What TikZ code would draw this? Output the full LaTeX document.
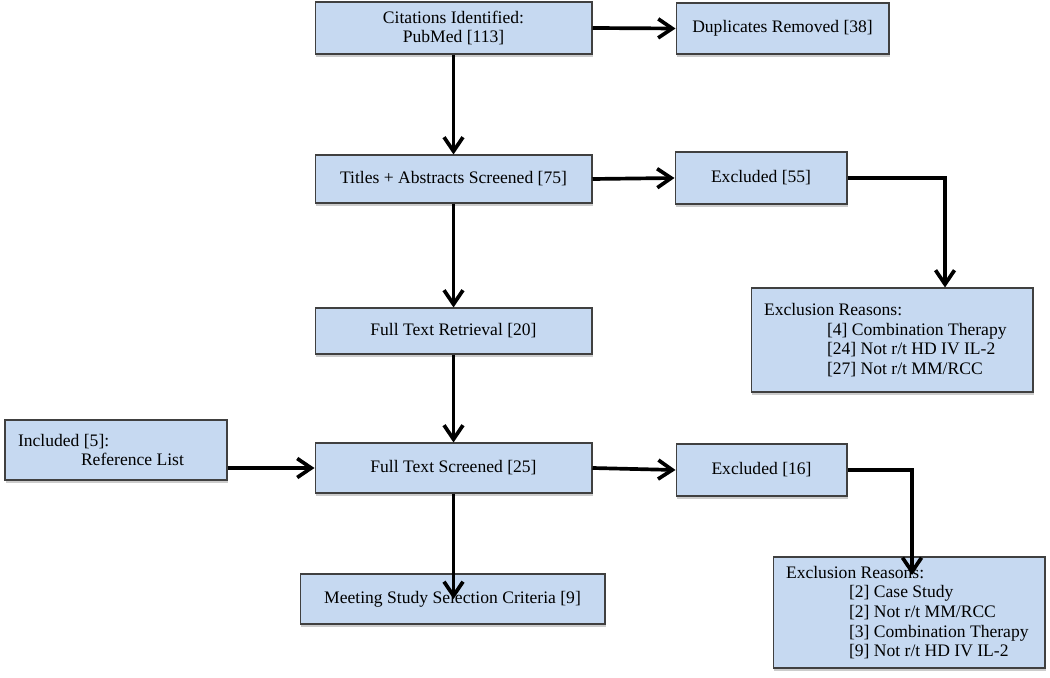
\documentclass[tikz,border=0pt]{standalone}
\usepackage{fontspec}
\setmainfont{Liberation Serif}
\usepackage{tikz}
\usetikzlibrary{arrows.meta}
\usetikzlibrary{shadows}
\definecolor{boxblue}{RGB}{198,217,241}

\begin{document}
\begin{tikzpicture}[x=0.02cm,y=-0.02cm,
  box/.style={draw=black!75,line width=0.6pt,fill=boxblue,drop shadow={shadow xshift=0.8pt,shadow yshift=-1.6pt,opacity=0.4},inner sep=0pt,align=center,font=\fontsize{10}{11.2}\selectfont},
  reasons/.style={box,align=flush left,inner xsep=0.26cm},
  link/.style={line width=2.1pt,-{Straight Barb[length=2.8mm,width=3.8mm]}}]

\useasboundingbox (0,0) rectangle (1050,678);

\node[box,minimum width=5.54cm,minimum height=1.04cm] (cite) at (453.5,28) {Citations Identified:\\ PubMed [113]};
\node[box,minimum width=4.26cm,minimum height=1.02cm] (dup) at (782.5,28.5) {Duplicates Removed [38]};
\node[box,minimum width=5.54cm,minimum height=0.96cm] (title) at (453.5,179) {Titles + Abstracts Screened [75]};
\node[box,minimum width=3.44cm,minimum height=1.04cm] (excl55) at (761,178) {Excluded [55]};
\node[reasons,text width=5.12cm,minimum height=2.08cm] (reasons1) at (892,340) {Exclusion Reasons:\\
  \hspace*{1.26cm}[4] Combination Therapy\\
  \hspace*{1.26cm}[24] Not r/t HD IV IL-2\\
  \hspace*{1.26cm}[27] Not r/t MM/RCC};
\node[box,minimum width=5.54cm,minimum height=0.92cm] (ftr) at (453.5,331) {Full Text Retrieval [20]};
\node[box,minimum width=5.54cm,minimum height=1cm] (fts) at (453.5,468) {Full Text Screened [25]};
\node[reasons,text width=3.92cm,minimum height=1.2cm] (incl) at (116,450) {Included [5]:\\
  \hspace*{1.26cm}Reference List};
\node[box,minimum width=3.42cm,minimum height=1.04cm] (excl16) at (761.5,470) {Excluded [16]};
\node[reasons,text width=4.92cm,minimum height=2.22cm] (reasons2) at (909,612.5) {Exclusion Reasons:\\
  \hspace*{1.26cm}[2] Case Study\\
  \hspace*{1.26cm}[2] Not r/t MM/RCC\\
  \hspace*{1.26cm}[3] Combination Therapy\\
  \hspace*{1.26cm}[9] Not r/t HD IV IL-2};
\node[box,minimum width=6.1cm,minimum height=1cm] (meet) at (452.5,599) {Meeting Study Selection Criteria [9]};

\coordinate (bend55) at (945,178);
\coordinate (bend16) at (912,470);
\coordinate (tip16) at (912,575);

\draw[link] (cite.east) -- (dup.west);
\draw[link] (cite.south) -- (title.north);
\draw[link] (title.east) -- (excl55.west);
\draw[link] (excl55.east) -- (bend55) -- (bend55 |- reasons1.north);
\draw[link] (title.south) -- (ftr.north);
\draw[link] (ftr.south) -- (fts.north);
\draw[link] (fts.west -| incl.east) -- (fts.west);
\draw[link] (fts.east) -- (excl16.west);
\draw[link] (excl16.east) -- (bend16) -- (tip16);
\draw[link] (fts.south) -- (fts.south |- meet.center);

\end{tikzpicture}
\end{document}
